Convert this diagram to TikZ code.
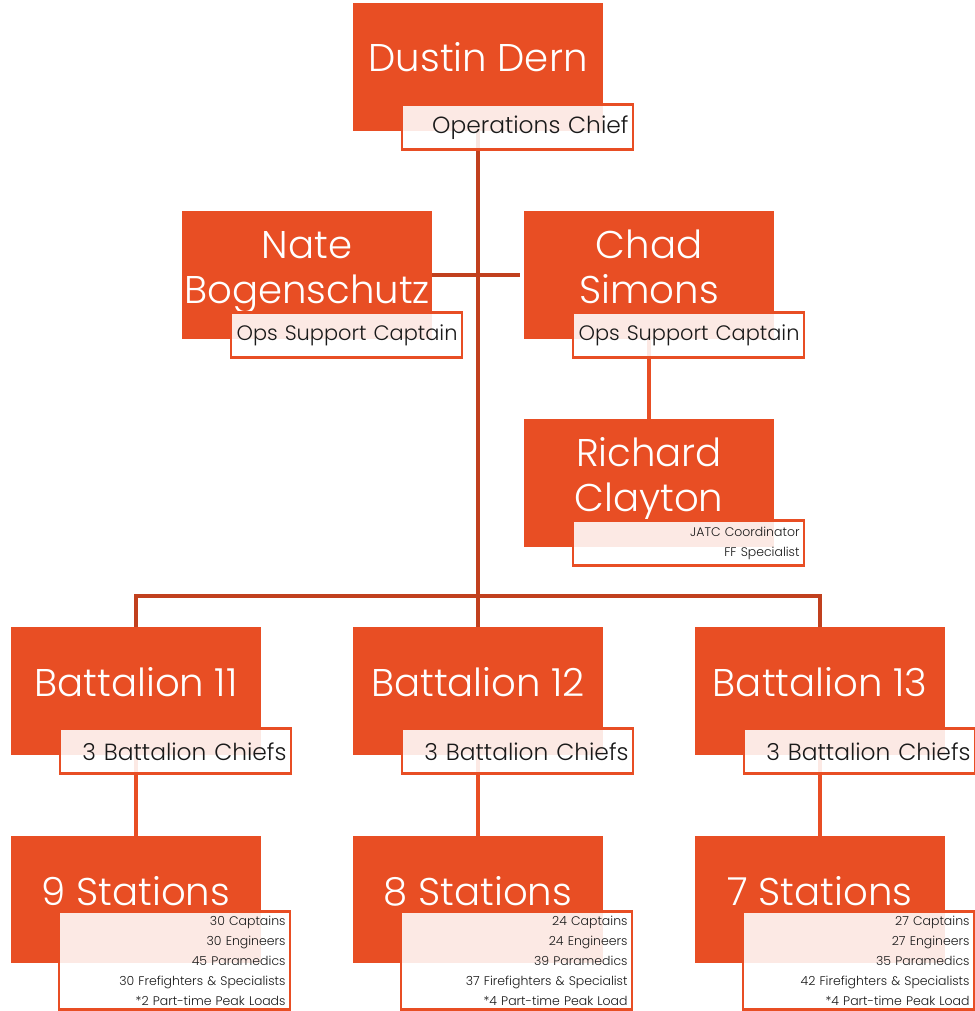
\documentclass[tikz,border=0pt]{standalone}
\usepackage{fontspec}
\setmainfont{Poppins}[UprightFont=* Light]
\usetikzlibrary{positioning, backgrounds}

\definecolor{boxorange}{RGB}{232,78,36}
\definecolor{linkred}{RGB}{193,64,30}
\definecolor{roletext}{RGB}{26,26,26}

\begin{document}
\begin{tikzpicture}[
        x=0.02cm, y=-0.02cm,
        person/.style={rectangle, fill=boxorange, minimum width=5cm, minimum height=2.56cm, inner sep=0pt},
        nametext/.style={text=white, font=\fontsize{22}{25.5}\selectfont, align=center, inner sep=0pt},
        rolebox/.style={rectangle, draw=boxorange, line width=1.6pt, fill=white, fill opacity=0.88, text opacity=1,
            text=roletext, minimum height=0.9cm, text width=4.44cm, inner xsep=0.09cm, inner ysep=0pt,
            align=right, anchor=north west, font=\fontsize{13.3}{15}\selectfont},
        opsrole/.style={rolebox, font=\fontsize{11.9}{14}\selectfont},
        smallrole/.style={rolebox, font=\fontsize{7.1}{11.3}\selectfont},
        link/.style={draw=linkred, line width=2.3pt},
        sublink/.style={draw=boxorange, line width=2.3pt}
    ]
        \useasboundingbox (0,0) rectangle (974,1011);

        % Boxes
        \node (dern) [person] at (478,67) {};
        \node (nate) [person] at (307,275) {};
        \node (chad) [person] at (649,275) {};
        \node (clayton) [person] at (649,483) {};
        \node (bat11) [person] at (136,691) {};
        \node (bat12) [person] at (478,691) {};
        \node (bat13) [person] at (820,691) {};
        \node (st11) [person] at (136,899.5) {};
        \node (st12) [person] at (478,899.5) {};
        \node (st13) [person] at (820,899.5) {};

        % Names
        \node (dernname) [nametext] at ([yshift=0.2cm]dern.center) {Dustin Dern};
        \node (natename) [nametext] at ([yshift=0.05cm]nate.center) {Nate\\Bogenschutz};
        \node (chadname) [nametext] at ([yshift=0.17cm]chad.center) {Chad\\Simons};
        \node (claytonname) [nametext] at ([yshift=0.07cm]clayton.center) {Richard\\Clayton};
        \node (bat11name) [nametext] at ([yshift=0.18cm]bat11.center) {Battalion 11};
        \node (bat12name) [nametext] at ([yshift=0.18cm]bat12.center) {Battalion 12};
        \node (bat13name) [nametext] at ([yshift=0.18cm]bat13.center) {Battalion 13};
        \node (st11name) [nametext] at ([yshift=0.16cm]st11.center) {9 Stations};
        \node (st12name) [nametext] at ([yshift=0.16cm]st12.center) {8 Stations};
        \node (st13name) [nametext] at ([yshift=0.16cm]st13.center) {7 Stations};

        % Roles
        \node (dernrole) [rolebox] at ([xshift=0.96cm, yshift=0.56cm]dern.south west) {Operations Chief};
        \node (naterole) [opsrole] at ([xshift=0.96cm, yshift=0.56cm]nate.south west) {Ops Support Captain};
        \node (chadrole) [opsrole] at ([xshift=0.96cm, yshift=0.56cm]chad.south west) {Ops Support Captain};
        \node (claytonrole) [smallrole] at ([xshift=0.96cm, yshift=0.56cm]clayton.south west) {JATC Coordinator\\FF Specialist};
        \node (bat11role) [rolebox] at ([xshift=0.96cm, yshift=0.56cm]bat11.south west) {3 Battalion Chiefs};
        \node (bat12role) [rolebox] at ([xshift=0.96cm, yshift=0.56cm]bat12.south west) {3 Battalion Chiefs};
        \node (bat13role) [rolebox] at ([xshift=0.96cm, yshift=0.56cm]bat13.south west) {3 Battalion Chiefs};
        \node (st11role) [smallrole, minimum height=1.96cm] at ([xshift=0.94cm, yshift=1.07cm]st11.south west)
            {30 Captains\\30 Engineers\\45 Paramedics\\30 Frefighters \& Specialists\\{*}2 Part-time Peak Loads};
        \node (st12role) [smallrole, minimum height=1.96cm] at ([xshift=0.94cm, yshift=1.07cm]st12.south west)
            {24 Captains\\24 Engineers\\39 Paramedics\\37 Firefighters \& Specialist\\{*}4 Part-time Peak Load};
        \node (st13role) [smallrole, minimum height=1.96cm] at ([xshift=0.94cm, yshift=1.07cm]st13.south west)
            {27 Captains\\27 Engineers\\35 Paramedics\\42 Firefighters \& Specialists\\{*}4 Part-time Peak Load};

        % Connectors
        \coordinate (bus) at (478,596);
        \begin{scope}[on background layer]
            \draw [link] (dern.center) -- (bus);
            \draw [link] (nate.center) -- ([xshift=-0.08cm]chad.west);
            \draw [link] (bat11.north) |- (bus) -| (bat13.north);
            \draw [link] (bus) -- (bat12.north);
            \draw [sublink] (chad.center) -- (clayton.center);
            \draw [sublink] (bat11.center) -- (st11.center);
            \draw [sublink] (bat12.center) -- (st12.center);
            \draw [sublink] (bat13.center) -- (st13.center);
        \end{scope}
    \end{tikzpicture}
\end{document}
